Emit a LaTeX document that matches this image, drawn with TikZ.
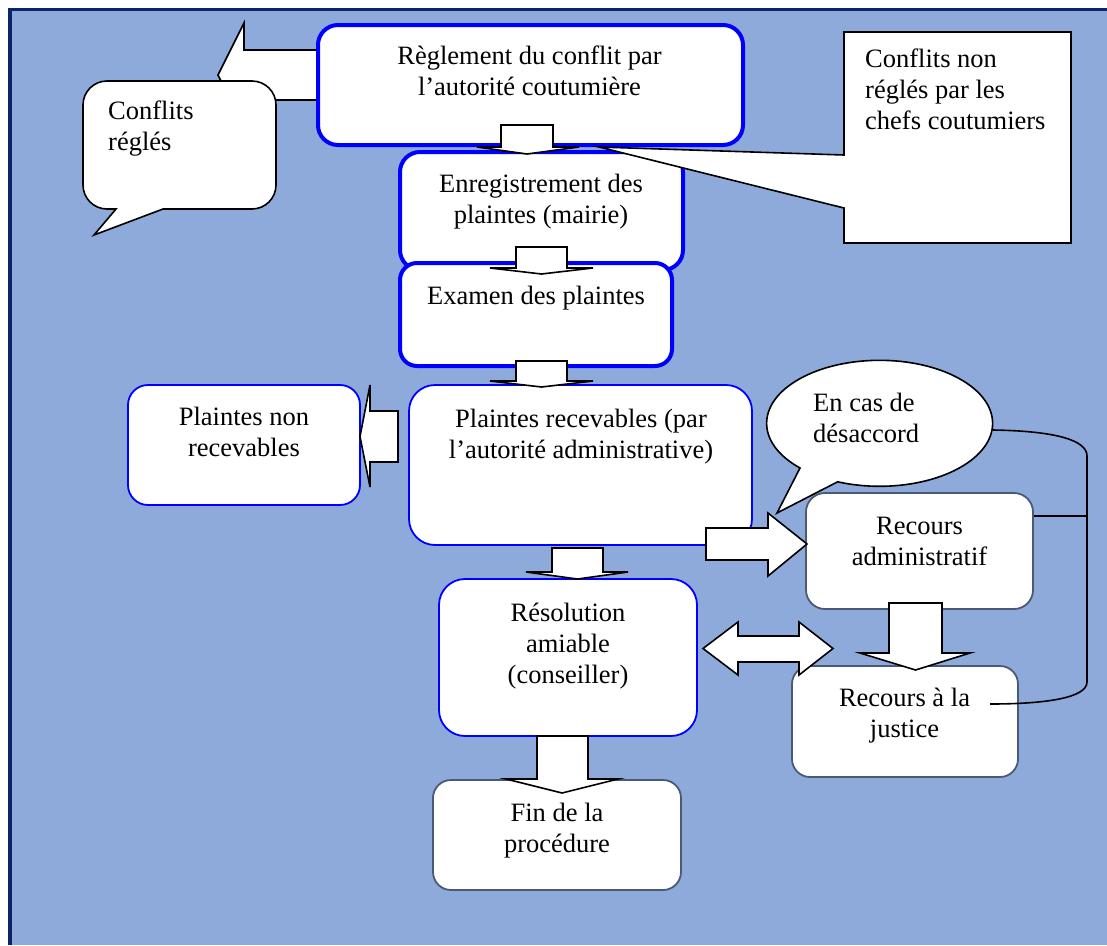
\documentclass[tikz,border=0pt]{standalone}
\usepackage{fontspec}
\setmainfont{Liberation Serif}
\usetikzlibrary{positioning}
\definecolor{pagefill}{HTML}{8EAADB}
\definecolor{framenavy}{HTML}{0B2566}
\definecolor{boxblue}{HTML}{0000FF}
\definecolor{boxslate}{HTML}{4A5A74}
\tikzset{
  thickbox/.style={draw=boxblue, line width=4pt, fill=white},
  thinbox/.style={draw=boxblue, line width=1.8pt, fill=white},
  slatebox/.style={draw=boxslate, line width=1.8pt, fill=white},
  blockarrow/.style={draw=black, line width=1.6pt, fill=white},
  callout/.style={draw=black, line width=1.6pt, fill=white},
  link/.style={draw=black, line width=1.6pt},
  boxtext/.style={inner sep=0pt, anchor=north, align=center, font=\fontsize{26.5}{31}\selectfont},
  calltext/.style={inner sep=0pt, anchor=north west, align=left, font=\fontsize{26.5}{31}\selectfont}
}

\begin{document}
\begin{tikzpicture}[x=1pt, y=-1pt]
\useasboundingbox (0,0) rectangle (1107,945);
% page and frame
\fill[pagefill] (12,11) rectangle (1107,945);
\fill[framenavy] (8,8) rectangle (12,945);
\fill[framenavy] (8,8) rectangle (1107,11);

% left block arrow out of the first box
\draw[blockarrow] (318,50) -- (244,50) -- (244,23) -- (218,75) -- (244,127) -- (244,100) -- (318,100) -- cycle;
\node[thickbox, rounded corners=20pt, minimum width=425pt, minimum height=120pt] (reg) at (530.5,85) {};

% callout: conflits regles
\draw[callout] (163,209) -- (252,209) arc[start angle=90, end angle=0, radius=24]
  -- (276,105) arc[start angle=0, end angle=-90, radius=24]
  -- (107,81) arc[start angle=-90, end angle=-180, radius=24]
  -- (83,185) arc[start angle=180, end angle=90, radius=24]
  -- (116,209) -- (94,235) -- cycle;

\node[thickbox, rounded corners=20pt, minimum width=283pt, minimum height=118pt] (enreg) at (541.5,211) {};
\draw[blockarrow] (501,125) -- (553,125) -- (553,147) -- (579,147) -- (527,154) -- (477,147) -- (501,147) -- cycle;

% callout: conflits non regles
\draw[callout] (844,32) -- (1071,32) -- (1071,243) -- (844,243) -- (844,208) -- (599,147) -- (844,155) -- cycle;

\node[thickbox, rounded corners=17pt, minimum width=272pt, minimum height=103pt] (examen) at (536,314.5) {};
\draw[blockarrow] (516,247) -- (567,247) -- (567,268) -- (593,268) -- (541.5,274) -- (490,268) -- (516,268) -- cycle;

\node[thinbox, rounded corners=26pt, minimum width=343pt, minimum height=160pt] (recev) at (580.5,465) {};
\node[thinbox, rounded corners=20pt, minimum width=232pt, minimum height=120pt] (nonrecev) at (244,445) {};
\draw[blockarrow] (516,361) -- (567,361) -- (567,381) -- (593,381) -- (541.5,387) -- (490,381) -- (516,381) -- cycle;
\draw[blockarrow] (398,411) -- (370,411) -- (370,385) -- (360,436.5) -- (370,487) -- (370,462) -- (398,462) -- cycle;

\node[slatebox, rounded corners=19pt, minimum width=227pt, minimum height=116pt] (admin) at (919.5,551) {};
\node[slatebox, rounded corners=18pt, minimum width=226pt, minimum height=111pt] (justice) at (905,721.5) {};
\node[thinbox, rounded corners=26pt, minimum width=258pt, minimum height=157pt] (amiable) at (568,657.5) {};
\node[slatebox, rounded corners=18pt, minimum width=248pt, minimum height=110pt] (fin) at (557,835) {};

% callout: en cas de desaccord
\draw[callout] (777,513) -- (800,468) arc[start angle=134.8, end angle=471.8, x radius=113, y radius=63] -- cycle;

% block arrows
\draw[blockarrow] (706,528) -- (768,528) -- (768,513) -- (807,544) -- (768,576) -- (768,560) -- (706,560) -- cycle;
\draw[blockarrow] (552,548) -- (603,548) -- (603,572) -- (628,572) -- (577.5,579) -- (526,572) -- (552,572) -- cycle;
\draw[blockarrow] (889,603) -- (942,603) -- (942,653) -- (970,653) -- (915.5,670) -- (860,653) -- (889,653) -- cycle;
\draw[blockarrow] (537,736) -- (588,736) -- (588,779) -- (618,779) -- (562,793) -- (506,779) -- (537,779) -- cycle;
\draw[blockarrow] (703,648.5) -- (738,622) -- (738,636) -- (799,636) -- (799,622) -- (833,648.5)
  -- (799,675) -- (799,662) -- (738,662) -- (738,675) -- cycle;

% bracket back to the court
\coordinate (desacE) at (993,430);
\coordinate (railtop) at (1087,456);
\coordinate (railbot) at (1087,682);
\coordinate (jend) at (990,704);
\coordinate (hook) at (1087,516);
\draw[link] (desacE) .. controls (1055,431) and (1087,440) .. (railtop) -- (railbot)
  .. controls (1087,698) and (1045,704) .. (jend);
\draw[link] (hook -| admin.east) -- (hook);

% texts
\node[boxtext] (regtext) at (529.5,46) {Règlement du conflit par\\l’autorité coutumière};
\node[calltext] (regles) at (108,101) {Conflits\\réglés};
\node[calltext] (nonregles) at (865,49) {Conflits non\\réglés par les\\chefs coutumiers};
\node[boxtext] (enregtext) at (541,174) {Enregistrement des\\plaintes (mairie)};
\node[boxtext] (examentext) at (536,286) {Examen des plaintes};
\node[boxtext] (recevtext) at (581,409) {Plaintes recevables (par\\l’autorité administrative)};
\node[boxtext] (nonrecevtext) at (244,407) {Plaintes non\\recevables};
\node[calltext] (desac) at (813,393) {En cas de\\désaccord};
\node[boxtext] (admintext) at (919.5,517) {Recours\\administratif};
\node[boxtext] (justicetext) at (904.5,688) {Recours à la\\justice};
\node[boxtext] (amiabletext) at (568,603) {Résolution\\amiable\\(conseiller)};
\node[boxtext] (fintext) at (557,803) {Fin de la\\procédure};
\end{tikzpicture}
\end{document}
